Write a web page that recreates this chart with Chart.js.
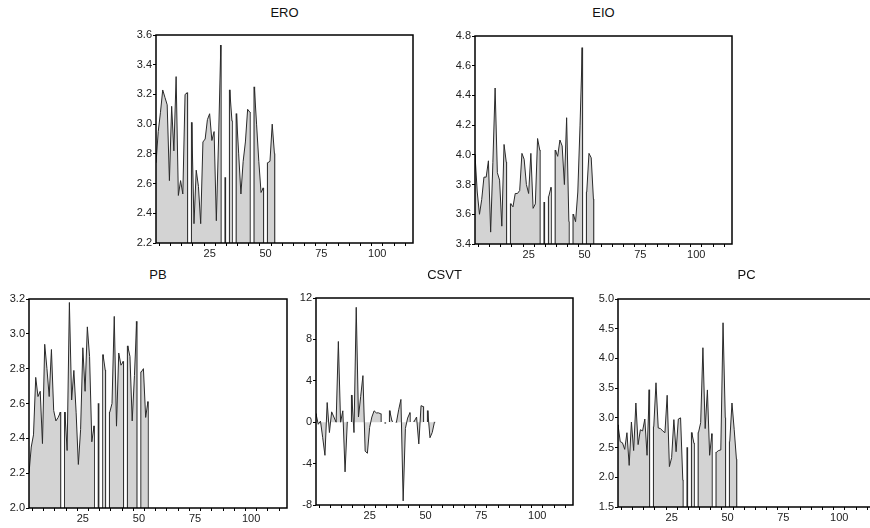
<!DOCTYPE html>
<html>
<head>
<meta charset="utf-8">
<script src="https://cdn.jsdelivr.net/npm/chart.js@4.4.1/dist/chart.umd.min.js"></script>
<style>
body { margin: 0; width: 870px; height: 528px; overflow: hidden; background: #fff; position: relative; font-family: "Liberation Sans", Arial, sans-serif; }
canvas { position: absolute; }
.title { position: absolute; font-size: 13px; color: #111; transform: translateX(-50%); white-space: nowrap; }
</style>
</head>
<body>
<script>
// series values, one per observation (null = missing observation)
const ero = [2.74, 2.95, 3.08, 3.23, 3.18, 3.13, 2.62, 3.12, 2.82, 3.32, 2.52, 2.62, 2.53, 3.2, 3.21, null,
    3.01, 2.33, 2.69, 2.58, 2.33, 2.88, 2.9, 3.03, 3.07, 2.89, 2.95, 2.35, 2.9, 3.53, null, 2.64, null, 3.23, 3.02, null,
    3.07, 2.8, 2.53, 2.75, 2.88, 3.1, 3.08, null, 3.25, 3.0, 2.75, 2.54, 2.57, null, 2.74, 2.75, 3.0, 2.8];
const eio = [4.0, 3.75, 3.6, 3.7, 3.85, 3.85, 3.96, 3.48, 3.95, 4.45, 3.88, 3.83, 3.52, 4.07, 3.95, null,
    3.67, 3.65, 3.74, 3.74, 3.76, 4.01, 3.97, 3.8, 3.74, 4.01, 3.64, 3.67, 4.11, 4.03, null, 3.68, null, 3.72, 3.78, null,
    4.03, 3.99, 4.1, 4.06, 3.8, 4.25, 3.55, null, 3.6, 3.55, 3.75, 4.2, 4.72, null, 3.75, 4.01, 3.98, 3.7];
const pb = [2.2, 2.35, 2.42, 2.75, 2.64, 2.67, 2.37, 2.94, 2.8, 2.64, 2.91, 2.56, 2.5, 2.52, 2.55, null,
    2.55, 2.33, 3.18, 2.62, 2.79, 2.55, 2.25, 2.45, 2.92, 2.67, 3.04, 2.87, 2.38, 2.47, null, 2.6, null, 2.88, 2.79, null,
    2.55, 2.6, 3.1, 2.47, 2.89, 2.82, 2.84, null, 2.93, 2.87, 2.5, 2.76, 3.07, null, 2.78, 2.8, 2.52, 2.61];
const csvt = [0.8, -0.2, 0.1, -1.5, -3.2, 1.9, -1.0, 1.0, 0.5, 0.0, 7.8, 0.0, 1.1, -4.8, 0.0, null,
    2.6, -1.0, 11.1, 0.5, 2.5, 4.5, -2.8, -3.0, -0.5, 0.5, 1.1, 0.9, 0.9, 0.8, null, -0.1, null, 1.1, 0.1, null,
    0.0, 1.2, 2.2, -7.6, -0.6, 0.4, 0.9, null, 0.1, 0.5, -2.1, 1.6, 1.5, null, 1.1, -1.5, -1.0, 0.0];
const pc = [2.88, 2.6, 2.58, 2.47, 2.75, 2.2, 2.93, 2.45, 3.25, 2.55, 2.8, 2.78, 2.98, 2.37, 3.47, null,
    2.85, 3.59, 2.83, 2.82, 2.78, 2.75, 3.38, 2.18, 2.33, 2.97, 2.43, 2.98, 3.0, 1.95, null, 2.5, null, 2.75, 2.57, null,
    2.75, 2.92, 4.18, 2.82, 3.47, 2.37, 2.73, null, 2.42, 2.45, 2.46, 4.6, 3.0, null, 2.6, 3.25, 2.8, 2.3];

// tick values
const xRange = [1, 116];
const xTicks = [5, 10, 15, 20, 25, 30, 35, 40, 45, 50, 55, 60, 65, 70, 75, 80, 85, 90, 95, 100, 105, 110, 115];
const xLabels = [25, 50, 75, 100];
const eroTicks = [2.2, 2.4, 2.6, 2.8, 3.0, 3.2, 3.4, 3.6];
const eioTicks = [3.4, 3.6, 3.8, 4.0, 4.2, 4.4, 4.6, 4.8];
const pbTicks = [2.0, 2.2, 2.4, 2.6, 2.8, 3.0, 3.2];
const csvtTicks = [-8, -4, 0, 4, 8, 12];
const pcTicks = [1.5, 2.0, 2.5, 3.0, 3.5, 4.0, 4.5, 5.0];

const Y_W = 34, PAD_T = 8, PAD_R = 4, X_H = 22;
const tickFont = { family: 'Liberation Sans', size: 11 };

// draws the box round the plot area
const boxPlugin = {
    id: 'box',
    afterDraw(chart) {
        const a = chart.chartArea, c = chart.ctx;
        c.save();
        c.strokeStyle = '#000';
        c.lineWidth = 1.5;
        c.strokeRect(a.left, a.top, a.right - a.left, a.bottom - a.top);
        c.restore();
    }
};

function makePanel(name, values, yTicks, decimals, plot) {
    const canvas = document.createElement('canvas');
    const w = plot.w + Y_W + PAD_R, h = plot.h + PAD_T + X_H;
    canvas.width = w;
    canvas.height = h;
    canvas.style.left = (plot.left - Y_W) + 'px';
    canvas.style.top = (plot.top - PAD_T) + 'px';
    document.body.appendChild(canvas);

    const title = document.createElement('div');
    title.className = 'title';
    title.textContent = name;
    title.style.left = (plot.left + plot.w / 2) + 'px';
    title.style.top = plot.titleY + 'px';
    document.body.appendChild(title);

    const points = values.map((v, i) => ({ x: i + 1, y: v }));
    // EViews draws the ends of each filled block (and lone points) as vertical strokes
    const edges = values.map((v, i) => {
        const isEdge = v !== null && (i === 0 || i === values.length - 1 || values[i - 1] === null || values[i + 1] === null);
        return { x: i + 1, y: isEdge ? v : null };
    });

    new Chart(canvas, {
        type: 'line',
        data: {
            datasets: [{
                data: points,
                borderColor: '#2a2a2a',
                borderWidth: 1,
                backgroundColor: '#d3d3d3',
                fill: 'origin',
                pointRadius: 0,
                tension: 0,
                spanGaps: false
            }, {
                type: 'bar',
                data: edges,
                backgroundColor: '#2a2a2a',
                barThickness: 1,
                borderWidth: 0
            }]
        },
        options: {
            responsive: false,
            animation: false,
            layout: { padding: { top: PAD_T, right: PAD_R, left: 0, bottom: 0 } },
            plugins: { legend: { display: false }, tooltip: { enabled: false } },
            scales: {
                x: {
                    type: 'linear',
                    min: xRange[0],
                    max: xRange[1],
                    offset: false,
                    afterBuildTicks: s => { s.ticks = xTicks.map(v => ({ value: v })); },
                    afterFit: s => { s.height = X_H; },
                    grid: { display: true, drawOnChartArea: false, drawTicks: true, tickLength: 3, color: '#000', lineWidth: 1 },
                    border: { display: false },
                    ticks: {
                        autoSkip: false, maxRotation: 0, padding: 1, color: '#222', font: tickFont,
                        callback: v => xLabels.includes(v) ? String(v) : ''
                    }
                },
                y: {
                    min: yTicks[0],
                    max: yTicks[yTicks.length - 1],
                    afterBuildTicks: s => { s.ticks = yTicks.map(v => ({ value: v })); },
                    afterFit: s => { s.width = Y_W; },
                    grid: { display: true, drawOnChartArea: false, drawTicks: true, tickLength: 3, color: '#000', lineWidth: 1 },
                    border: { display: false },
                    ticks: {
                        padding: 1, color: '#222', font: tickFont,
                        callback: v => v.toFixed(decimals)
                    }
                }
            }
        },
        plugins: [boxPlugin]
    });
}

makePanel('ERO', ero, eroTicks, 1, { left: 156, top: 35, w: 257, h: 208, titleY: 5 });
makePanel('EIO', eio, eioTicks, 1, { left: 475, top: 36, w: 257, h: 208, titleY: 5 });
makePanel('PB', pb, pbTicks, 1, { left: 29, top: 299, w: 258, h: 209, titleY: 267 });
makePanel('CSVT', csvt, csvtTicks, 0, { left: 316, top: 298, w: 257, h: 207, titleY: 267 });
makePanel('PC', pc, pcTicks, 1, { left: 618, top: 299, w: 257, h: 208, titleY: 267 });
</script>
</body>
</html>
